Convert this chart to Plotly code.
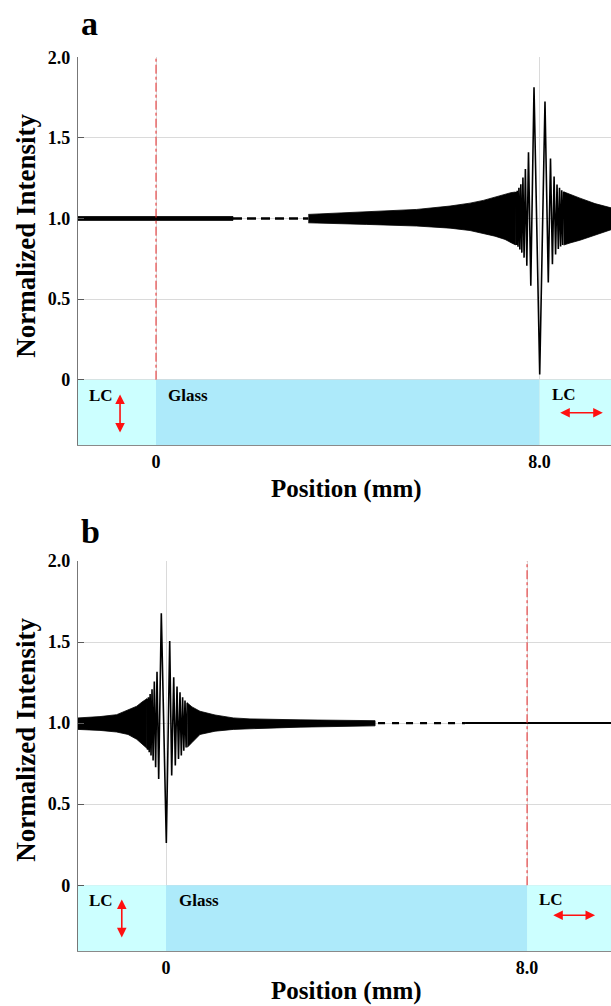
import plotly.graph_objects as go

# ---------------- panel a : focus at the glass / LC interface near 8.0 mm ----------------
a_flat_x = [-1.627, 1.606]
a_flat_hi = [1.012, 1.012]
a_flat_lo = [0.988, 0.988]

a_gap_x = [1.606, 3.177]
a_gap_y = [1.0, 1.0]

a_envL_x = [3.177, 3.838, 4.395, 5.438, 6.133, 6.550, 6.827, 7.071, 7.280, 7.405, 7.501]
a_envL_hi = [1.025, 1.033, 1.040, 1.056, 1.077, 1.095, 1.112, 1.133, 1.152, 1.160, 1.164]
a_envL_lo = [0.973, 0.968, 0.963, 0.953, 0.940, 0.925, 0.908, 0.890, 0.870, 0.850, 0.836]

a_fr_x = [7.501, 7.518, 7.534, 7.551, 7.570, 7.589, 7.610, 7.631, 7.654, 7.678, 7.705,
          7.735, 7.770, 7.818, 7.885, 8.004, 8.114, 8.183, 8.229, 8.269, 8.304, 8.335,
          8.365, 8.392, 8.417, 8.440, 8.463, 8.483, 8.504]
a_fr_y = [1.164, 0.836, 1.172, 0.825, 1.190, 0.808, 1.212, 0.788, 1.254, 0.757, 1.307,
          0.706, 1.410, 0.583, 1.814, 0.032, 1.725, 0.603, 1.372, 0.716, 1.260, 0.777,
          1.210, 0.810, 1.190, 0.826, 1.175, 0.835, 1.165]

a_envR_x = [8.504, 8.636, 8.844, 9.157, 9.491]
a_envR_hi = [1.165, 1.148, 1.126, 1.092, 1.066]
a_envR_lo = [0.835, 0.848, 0.865, 0.895, 0.930]

# ---------------- panel b : focus at the LC / glass interface near 0 mm ----------------
b_envL_x = [-1.950, -1.463, -1.093, -0.842, -0.649, -0.532, -0.425]
b_envL_hi = [1.032, 1.040, 1.052, 1.083, 1.104, 1.130, 1.150]
b_envL_lo = [0.961, 0.955, 0.945, 0.930, 0.900, 0.870, 0.845]

b_fr_x = [-0.425, -0.408, -0.390, -0.372, -0.352, -0.332, -0.310, -0.286, -0.259, -0.230,
          -0.199, -0.162, -0.104, 0.007, 0.082, 0.126, 0.171, 0.206, 0.244, 0.277,
          0.310, 0.339, 0.368, 0.394, 0.421, 0.445, 0.470]
b_fr_y = [1.150, 0.835, 1.160, 0.820, 1.180, 0.800, 1.209, 0.770, 1.256, 0.727,
          1.317, 0.656, 1.677, 0.260, 1.506, 0.677, 1.282, 0.738, 1.226, 0.778,
          1.190, 0.800, 1.160, 0.830, 1.140, 0.850, 1.125]

b_envR_x = [0.470, 0.576, 0.753, 1.086, 1.491, 1.861, 2.970, 3.856, 4.632]
b_envR_hi = [1.125, 1.100, 1.073, 1.050, 1.032, 1.026, 1.020, 1.018, 1.015]
b_envR_lo = [0.850, 0.880, 0.930, 0.950, 0.961, 0.965, 0.975, 0.980, 0.983]

b_gap_x = [4.698, 6.626]
b_gap_y = [1.0, 1.0]
b_flat_x = [6.626, 9.860]
b_flat_y = [1.0, 1.0]

# axis settings
x_ticks = [0, 8.0]
x_ticktext = ["0", "8.0"]
y_ticks = [0, 0.5, 1.0, 1.5, 2.0]
y_ticktext = ["0", "0.5", "1.0", "1.5", "2.0"]
a_xrange = [-1.627, 9.491]
b_xrange = [-1.950, 9.860]
y_range = [-0.406, 2.0]
interface_a = 0.0
interface_b = 8.0

SERIF = "Liberation Serif"
LC_COLOR = "#ccffff"
GLASS_COLOR = "#adeafa"
AX_COLOR = "#5a5a5a"


def band(x, hi, lo, xa, ya):
    return go.Scatter(x=list(x) + list(x)[::-1], y=list(hi) + list(lo)[::-1],
                      fill="toself", fillcolor="black", mode="lines",
                      line=dict(color="black", width=0.8),
                      xaxis=xa, yaxis=ya, hoverinfo="skip", showlegend=False)


def line(x, y, xa, ya, width, dash="solid"):
    return go.Scatter(x=x, y=y, mode="lines",
                      line=dict(color="black", width=width, dash=dash),
                      xaxis=xa, yaxis=ya, hoverinfo="skip", showlegend=False)


fig = go.Figure()
# panel a
fig.add_trace(band(a_flat_x, a_flat_hi, a_flat_lo, "x", "y"))
fig.add_trace(line(a_gap_x, a_gap_y, "x", "y", 2.6, "9px,5px"))
fig.add_trace(band(a_envL_x, a_envL_hi, a_envL_lo, "x", "y"))
fig.add_trace(line(a_fr_x, a_fr_y, "x", "y", 1.6))
fig.add_trace(band(a_envR_x, a_envR_hi, a_envR_lo, "x", "y"))
# panel b
fig.add_trace(band(b_envL_x, b_envL_hi, b_envL_lo, "x2", "y2"))
fig.add_trace(line(b_fr_x, b_fr_y, "x2", "y2", 1.6))
fig.add_trace(band(b_envR_x, b_envR_hi, b_envR_lo, "x2", "y2"))
fig.add_trace(line(b_gap_x, b_gap_y, "x2", "y2", 2.4, "7px,7px"))
fig.add_trace(line(b_flat_x, b_flat_y, "x2", "y2", 2))

tick_font = dict(family=SERIF, size=18, color="black", weight="bold")


def xaxis(rng, domain_anchor):
    return dict(domain=[78 / 611, 1], range=rng, anchor=domain_anchor,
                tickvals=x_ticks, ticktext=x_ticktext, ticks="", showline=True,
                linecolor="#8a8a8a", linewidth=1.2, showgrid=True, gridcolor="#dadada",
                gridwidth=1, zeroline=False, tickfont=tick_font, ticklabelstandoff=0)


def topaxis(rng, over, domain_anchor):
    return dict(domain=[78 / 611, 1], range=rng, overlaying=over, side="top",
                anchor=domain_anchor, tickvals=x_ticks, ticks="inside", ticklen=6,
                tickcolor=AX_COLOR, showticklabels=False, showline=True,
                linecolor="#444444", linewidth=1.4, showgrid=False, zeroline=False)


def yaxis(dom, anchor):
    return dict(domain=dom, range=y_range, anchor=anchor, tickvals=y_ticks,
                ticktext=y_ticktext, ticks="inside", ticklen=6, tickcolor=AX_COLOR,
                showline=True, linecolor="#777777", linewidth=1.4, showgrid=True,
                gridcolor="#dadada", gridwidth=1, zeroline=False, tickfont=tick_font,
                ticklabelstandoff=3)


shapes = []
for xr, xref, yref in [(a_xrange, "x", "y"), (b_xrange, "x2", "y2")]:
    for x0, x1, col in [(xr[0], 0.0, LC_COLOR), (0.0, 8.0, GLASS_COLOR), (8.0, xr[1], LC_COLOR)]:
        shapes.append(dict(type="rect", xref=xref, yref=yref, x0=x0, x1=x1,
                           y0=y_range[0], y1=0, fillcolor=col, line=dict(width=0),
                           layer="between"))
shapes.append(dict(type="line", xref="x", yref="y", x0=interface_a, x1=interface_a,
                   y0=0, y1=2.0, line=dict(color="#e82828", width=1, dash="dashdot"),
                   layer="above"))
shapes.append(dict(type="line", xref="x2", yref="y2", x0=interface_b, x1=interface_b,
                   y0=0, y1=2.0, line=dict(color="#e82828", width=1, dash="dashdot"),
                   layer="above"))

lab_font = dict(family=SERIF, size=17, color="black", weight="bold")
ytitle_font = dict(family=SERIF, size=27, color="black", weight="bold")
xtitle_font = dict(family=SERIF, size=25, color="black", weight="bold")
ann = []


def txt(x, y, s, xref, yref, font, xanchor="center", yanchor="middle", angle=0):
    ann.append(dict(x=x, y=y, text=s, xref=xref, yref=yref, showarrow=False,
                    font=font, xanchor=xanchor, yanchor=yanchor, textangle=angle))


def arrow(x0, y0, x1, y1, xref, yref):
    ann.append(dict(x=x1, y=y1, ax=x0, ay=y0, xref=xref, yref=yref, axref=xref,
                    ayref=yref, text="", showarrow=True, arrowhead=2, arrowside="end+start",
                    arrowsize=1.2, arrowwidth=1.6, arrowcolor="#ff1010"))


# panel a texts
txt(-1.147, -0.10, "LC", "x", "y", lab_font)
txt(0.21, -0.10, "Glass", "x", "y", lab_font, xanchor="left")
txt(8.22, -0.095, "LC", "x", "y", lab_font, xanchor="left")
arrow(-0.75, -0.082, -0.75, -0.328, "x", "y")
arrow(8.40, -0.205, 9.32, -0.205, "x", "y")
# panel b texts
txt(-1.45, -0.095, "LC", "x2", "y2", lab_font)
txt(0.236, -0.095, "Glass", "x2", "y2", lab_font, xanchor="left")
txt(8.215, -0.09, "LC", "x2", "y2", lab_font, xanchor="left")
arrow(-0.98, -0.078, -0.98, -0.322, "x2", "y2")
arrow(8.547, -0.185, 9.507, -0.185, "x2", "y2")

# panel letters and axis titles
letter_font = dict(family=SERIF, size=34, color="black", weight="bold")
txt(79 / 611, (1006 - 14) / 1006, "a", "paper", "paper", letter_font, xanchor="left")
txt(79 / 611, (1006 - 527) / 1006, "b", "paper", "paper", letter_font, xanchor="left")
txt(26 / 611, (1006 - 228) / 1006, "Normalized Intensity", "paper", "paper",
    ytitle_font, angle=-90)
txt(26 / 611, (1006 - 737) / 1006, "Normalized Intensity", "paper", "paper",
    ytitle_font, angle=-90)
txt(346 / 611, (1006 - 484) / 1006, "Position (mm)", "paper", "paper", xtitle_font)
txt(346 / 611, (1006 - 991) / 1006, "Position (mm)", "paper", "paper", xtitle_font)

fig.update_layout(
    width=611, height=1006, margin=dict(l=0, r=0, t=0, b=0),
    paper_bgcolor="white", plot_bgcolor="white", showlegend=False,
    xaxis=xaxis(a_xrange, "y"), yaxis=yaxis([1 - 439.5 / 1006, 1 - 47.7 / 1006], "x"),
    xaxis2=xaxis(b_xrange, "y2"), yaxis2=yaxis([1 - 950.5 / 1006, 1 - 556.5 / 1006], "x2"),
    xaxis3=topaxis(a_xrange, "x", "y"), xaxis4=topaxis(b_xrange, "x2", "y2"),
    shapes=shapes, annotations=ann,
)

fig.write_html("out.html")
